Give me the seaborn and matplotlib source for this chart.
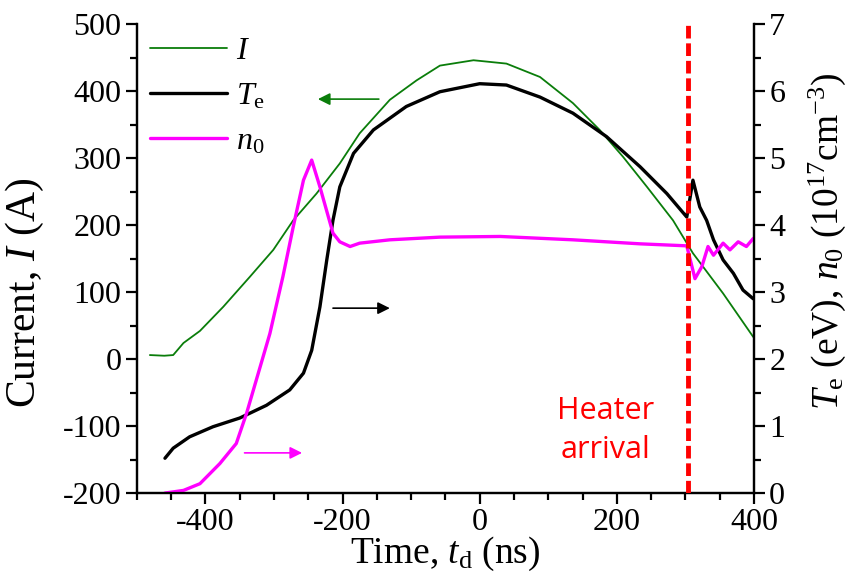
import numpy as np
import pandas as pd
import matplotlib
matplotlib.use("Agg")
import matplotlib.pyplot as plt
import seaborn as sns
from matplotlib.ticker import MultipleLocator
from matplotlib.lines import Line2D

# ---- data ----
t_I = [-481, -460, -447, -432, -408, -374, -335, -301, -272, -238, -204, -175, -131, -92, -58,
       -9, 39, 88, 136, 175, 209, 244, 282, 311, 355, 399]
I_vals = [6, 5, 6, 24, 42, 78, 123, 163, 207, 247, 292, 337, 387, 416, 438,
          446, 441, 421, 382, 342, 302, 257, 207, 158, 98, 33]

t_Te = [-459, -447, -423, -389, -350, -311, -277, -257, -245, -233, -223, -214, -204, -184, -155,
        -107, -58, 0, 39, 88, 136, 185, 234, 273, 302, 307, 311, 321, 331, 341, 355, 370, 384, 399]
Te_vals = [0.52, 0.67, 0.84, 0.99, 1.12, 1.31, 1.54, 1.79, 2.13, 2.78, 3.48, 4.07, 4.57, 5.07, 5.42,
           5.77, 5.99, 6.11, 6.09, 5.91, 5.67, 5.32, 4.87, 4.47, 4.12, 4.42, 4.67, 4.27, 4.07, 3.78,
           3.48, 3.28, 3.03, 2.90]

t_n0 = [-459, -432, -408, -379, -355, -340, -306, -287, -272, -257, -245, -233, -214, -204, -189,
        -175, -131, -58, 30, 136, 234, 302, 314, 324, 333, 341, 355, 365, 377, 389, 399]
n0_vals = [0.0, 0.04, 0.14, 0.44, 0.74, 1.19, 2.38, 3.23, 3.97, 4.67, 4.97, 4.57, 3.88, 3.75, 3.68,
           3.73, 3.78, 3.82, 3.83, 3.78, 3.72, 3.69, 3.20, 3.38, 3.68, 3.55, 3.73, 3.63, 3.75, 3.68, 3.80]

heater_t = 304

x_ticks = [-400, -200, 0, 200, 400]
yl_ticks = [-200, -100, 0, 100, 200, 300, 400, 500]
yr_ticks = [0, 1, 2, 3, 4, 5, 6, 7]

# ---- style ----
sns.set_style("ticks")
plt.rcParams["font.family"] = ["Liberation Serif", "DejaVu Serif"]
plt.rcParams["mathtext.fontset"] = "custom"
plt.rcParams["mathtext.rm"] = "Liberation Serif"
plt.rcParams["mathtext.it"] = "Liberation Serif:italic"
plt.rcParams["mathtext.bf"] = "Liberation Serif:bold"
plt.rcParams["axes.unicode_minus"] = False
for k in ["axes.edgecolor", "axes.labelcolor", "text.color", "xtick.color", "ytick.color",
          "xtick.labelcolor", "ytick.labelcolor"]:
    plt.rcParams[k] = "black"

GREEN = "#0a7d0a"
MAG = "#ff00ff"

fig = plt.figure(figsize=(8.5, 5.87), dpi=100)
ax = fig.add_axes([0.161, 0.160, 0.726, 0.799])
ax2 = ax.twinx()

dfI = pd.DataFrame({"t": t_I, "v": I_vals})
dfT = pd.DataFrame({"t": t_Te, "v": Te_vals})
dfN = pd.DataFrame({"t": t_n0, "v": n0_vals})

sns.lineplot(data=dfI, x="t", y="v", ax=ax, color=GREEN, lw=1.3, sort=False)
sns.lineplot(data=dfT, x="t", y="v", ax=ax2, color="black", lw=2.4, sort=False)
sns.lineplot(data=dfN, x="t", y="v", ax=ax2, color=MAG, lw=2.4, sort=False)
ax2.axvline(heater_t, color="#ff0000", lw=3.5, ls=(0, (2.6, 1.0)), zorder=5)

ax.set_xlim(-500, 400)
ax.set_ylim(-200, 500)
ax2.set_ylim(0, 7)

ax.set_xticks(x_ticks)
ax.set_yticks(yl_ticks)
ax2.set_yticks(yr_ticks)
ax.xaxis.set_minor_locator(MultipleLocator(50))
ax.yaxis.set_minor_locator(MultipleLocator(50))
ax2.yaxis.set_minor_locator(MultipleLocator(0.5))

for a in (ax, ax2):
    for s in a.spines.values():
        s.set_linewidth(1.6)
        s.set_color("black")
    a.tick_params(which="major", direction="out", length=8, width=1.6, labelsize=23, pad=3,
                  color="black", labelcolor="black")
    a.tick_params(which="minor", direction="out", length=5, width=1.6, color="black")
ax.spines["top"].set_visible(False)
ax2.spines["top"].set_visible(False)
ax2.spines["right"].set_visible(True)

ax.set_xlabel(r"Time, $t_\mathrm{d}$ (ns)", fontsize=27, labelpad=-2)
ax.set_ylabel(r"Current, $I$ (A)", fontsize=30)
ax.yaxis.set_label_coords(-0.148, 0.426)
ax2.set_ylabel(r"$T_\mathrm{e}$ (eV), $n_0$ (10$^{17}$cm$^{-3}$)", fontsize=27)
ax2.yaxis.set_label_coords(1.085, 0.537)

# legend
handles = [Line2D([], [], color=GREEN, lw=1.3),
           Line2D([], [], color="black", lw=2.4),
           Line2D([], [], color=MAG, lw=2.4)]
ax2.legend(handles, [r"$I$", r"$T_\mathrm{e}$", r"$n_0$"], loc="upper left",
           bbox_to_anchor=(-0.025, 1.035), frameon=False, fontsize=23,
           handlelength=2.4, handletextpad=0.3, labelspacing=0.5)

# arrows
ax.annotate("", xy=(-240, 388), xytext=(-143, 388),
            arrowprops=dict(arrowstyle="-|>", color=GREEN, lw=1.2, mutation_scale=18))
ax2.annotate("", xy=(-127, 2.76), xytext=(-218, 2.76),
             arrowprops=dict(arrowstyle="-|>", color="black", lw=1.2, mutation_scale=18))
ax2.annotate("", xy=(-255, 0.6), xytext=(-347, 0.6),
             arrowprops=dict(arrowstyle="-|>", color=MAG, lw=1.2, mutation_scale=18))

ax2.text(183, 0.93, "Heater\narrival", color="#ff0000", fontsize=22,
         family=["Open Sans", "DejaVu Sans"], ha="center", va="center", linespacing=1.4)

fig.savefig("out.png", dpi=100)
